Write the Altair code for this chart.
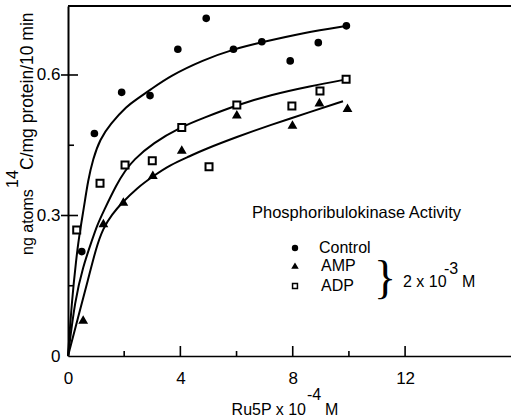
import altair as alt
import pandas as pd

FONT = "Liberation Sans"

# ---------------- data ----------------
series_names = ["Control", "AMP", "ADP"]
series_shapes = ["circle", "triangle-up", "square"]
series_fills = ["black", "black", "white"]

control_x = [0.49, 0.94, 1.91, 2.92, 3.91, 4.92, 5.89, 6.90, 7.91, 8.91, 9.91]
control_y = [0.223, 0.475, 0.563, 0.556, 0.655, 0.721, 0.655, 0.671, 0.630, 0.669, 0.705]
amp_x = [0.54, 1.26, 1.97, 3.02, 4.05, 6.01, 7.99, 8.95, 9.95]
amp_y = [0.077, 0.283, 0.329, 0.386, 0.440, 0.515, 0.493, 0.541, 0.529]
adp_x = [0.31, 1.14, 2.03, 3.00, 4.05, 5.02, 6.01, 7.97, 8.97, 9.90]
adp_y = [0.269, 0.369, 0.408, 0.417, 0.488, 0.404, 0.536, 0.534, 0.566, 0.591]

# hand-drawn fitted curves
control_curve_x = [0, 0.14, 0.29, 0.39, 0.57, 0.71, 0.89, 1.14, 1.50, 2.10, 2.46, 2.92, 3.63, 4.81, 5.88, 6.91, 8.37, 9.94]
control_curve_y = [0, 0.120, 0.205, 0.254, 0.318, 0.374, 0.421, 0.463, 0.495, 0.534, 0.549, 0.568, 0.598, 0.632, 0.655, 0.670, 0.690, 0.705]
amp_curve_x = [0, 0.36, 0.71, 1.00, 1.25, 1.57, 1.92, 2.46, 3.03, 3.63, 4.35, 4.81, 6.02, 7.19, 8.62, 9.79]
amp_curve_y = [0, 0.083, 0.162, 0.231, 0.273, 0.303, 0.327, 0.359, 0.384, 0.408, 0.427, 0.440, 0.468, 0.493, 0.521, 0.544]
adp_curve_x = [0, 0.25, 0.53, 0.86, 1.03, 1.25, 1.75, 2.03, 2.32, 3.03, 4.02, 4.81, 6.02, 7.19, 8.62, 9.94]
adp_curve_y = [0, 0.120, 0.190, 0.248, 0.278, 0.307, 0.369, 0.395, 0.418, 0.455, 0.489, 0.508, 0.536, 0.557, 0.576, 0.591]

x_tick_labels = [0, 4, 8, 12]
x_minor_ticks = [2, 6, 10]
x_major_ticks = [4, 8, 12]
y_tick_labels = [0, 0.3, 0.6]
y_major_ticks = [0.3, 0.6]
y_minor_ticks = [0.15, 0.45]

y_title_parts = ["ng atoms", "14", "C/mg protein/10 min"]
x_title_parts = ["Ru5P x 10", "-4", "M"]
legend_title = "Phosphoribulokinase Activity"
conc_parts = ["2 x 10", "-3", "M"]
brace = "}"

# ---------------- tables ----------------
pts = pd.DataFrame({
    "series": ["Control"] * len(control_x) + ["AMP"] * len(amp_x) + ["ADP"] * len(adp_x),
    "x": control_x + amp_x + adp_x,
    "y": control_y + amp_y + adp_y,
})
curves = pd.DataFrame({
    "series": ["Control"] * len(control_curve_x) + ["AMP"] * len(amp_curve_x) + ["ADP"] * len(adp_curve_x),
    "x": control_curve_x + amp_curve_x + adp_curve_x,
    "y": control_curve_y + amp_curve_y + adp_curve_y,
})
curves["order"] = range(len(curves))
one = pd.DataFrame({"a": [0]})

xscale = alt.Scale(domain=[0, 15.77], nice=False, zero=False)
yscale = alt.Scale(domain=[0, 0.7473], nice=False, zero=False)

x_axis = alt.Axis(values=x_tick_labels, title=None, grid=False, ticks=False, tickSize=0,
                  domainColor="black", domainWidth=1.5, labelFont=FONT, labelFontSize=17,
                  labelColor="black", labelPadding=14, labelFlush=False, labelOverlap=False)
y_axis = alt.Axis(values=y_tick_labels, title=None, grid=False, ticks=False, tickSize=0,
                  domainColor="black", domainWidth=2, labelFont=FONT, labelFontSize=17,
                  labelColor="black", labelPadding=8, labelOverlap=False,
                  labelExpr="datum.value == 0 ? '0' : format(datum.value, '.1f')")

X = lambda f: alt.X(f, scale=xscale, axis=x_axis)
Y = lambda f: alt.Y(f, scale=yscale, axis=y_axis)

lines = alt.Chart(curves).mark_line(color="black", strokeWidth=2, interpolate="basis").encode(
    x=X("x:Q"), y=Y("y:Q"), detail="series:N", order="order:Q",
)

points = alt.Chart(pts).mark_point(filled=True, stroke="black", strokeWidth=2, opacity=1).encode(
    x=X("x:Q"), y=Y("y:Q"),
    shape=alt.Shape("series:N", scale=alt.Scale(domain=series_names, range=series_shapes), legend=None),
    fill=alt.Fill("series:N", scale=alt.Scale(domain=series_names, range=series_fills), legend=None),
    size=alt.Size("series:N", scale=alt.Scale(domain=series_names, range=[32, 49, 42]), legend=None),
)

def tick_layer(vals, horizontal, a, b):
    df = pd.DataFrame({"v": vals})
    if horizontal:
        return alt.Chart(df).mark_rule(color="black", strokeWidth=1.6).encode(
            y=Y("v:Q"), x=alt.value(a), x2=alt.value(b))
    return alt.Chart(df).mark_rule(color="black", strokeWidth=1.6).encode(
        x=X("v:Q"), y=alt.value(a), y2=alt.value(b))

ticks = [
    tick_layer(x_major_ticks, False, 350, 340),
    tick_layer(x_minor_ticks, False, 350, 345),
    tick_layer(y_major_ticks, True, -7, 10),
    tick_layer(y_minor_ticks, True, 0, 6),
]

top_border = alt.Chart(one).mark_rule(color="black", strokeWidth=2).encode(
    x=alt.value(0), x2=alt.value(443), y=alt.value(0))

def txt(s, x, y, size=16, align="left", baseline="alphabetic", angle=0, font=FONT):
    return alt.Chart(one).mark_text(text=s, align=align, baseline=baseline, fontSize=size,
                                    angle=angle, font=font, color="black").encode(
        x=alt.value(x), y=alt.value(y))

def key_symbol(shape, fill, y):
    return alt.Chart(one).mark_point(shape=shape, filled=True, fill=fill, stroke="black",
                                     strokeWidth=1.5, opacity=1, size=24).encode(
        x=alt.value(227), y=alt.value(y))

legend_layers = [
    key_symbol(series_shapes[0], series_fills[0], 242),
    key_symbol(series_shapes[1], series_fills[1], 260),
    key_symbol(series_shapes[2], series_fills[2], 280),
    txt(series_names[0], 251, 247),
    txt(series_names[1], 253, 265),
    txt(series_names[2], 253, 285),
]

texts = [
    txt(y_title_parts[0], -35, 249, angle=270),
    txt(y_title_parts[1], -50, 182, angle=270),
    txt(y_title_parts[2], -35, 164, size=17.5, angle=270),
    txt(x_title_parts[0], 238, 409, align="right"),
    txt(x_title_parts[1], 239, 394),
    txt(x_title_parts[2], 257, 409),
    txt(legend_title, 184, 212, size=16.5),
    txt(brace, 317, 273, size=46, align="center", baseline="middle", font="Liberation Serif"),
    txt(conc_parts[0], 335, 281),
    txt(conc_parts[1], 376, 268),
    txt(conc_parts[2], 394, 281),
]

chart = alt.layer(lines, points, *ticks, top_border, *legend_layers, *texts).properties(
    width=443, height=350,
    autosize=alt.AutoSizeParams(type="none"),
    padding={"left": 68, "top": 6, "right": 0, "bottom": 62},
    background="white",
).configure_view(stroke=None)

chart.save("out.html", embed_options={"renderer": "svg", "actions": False})
